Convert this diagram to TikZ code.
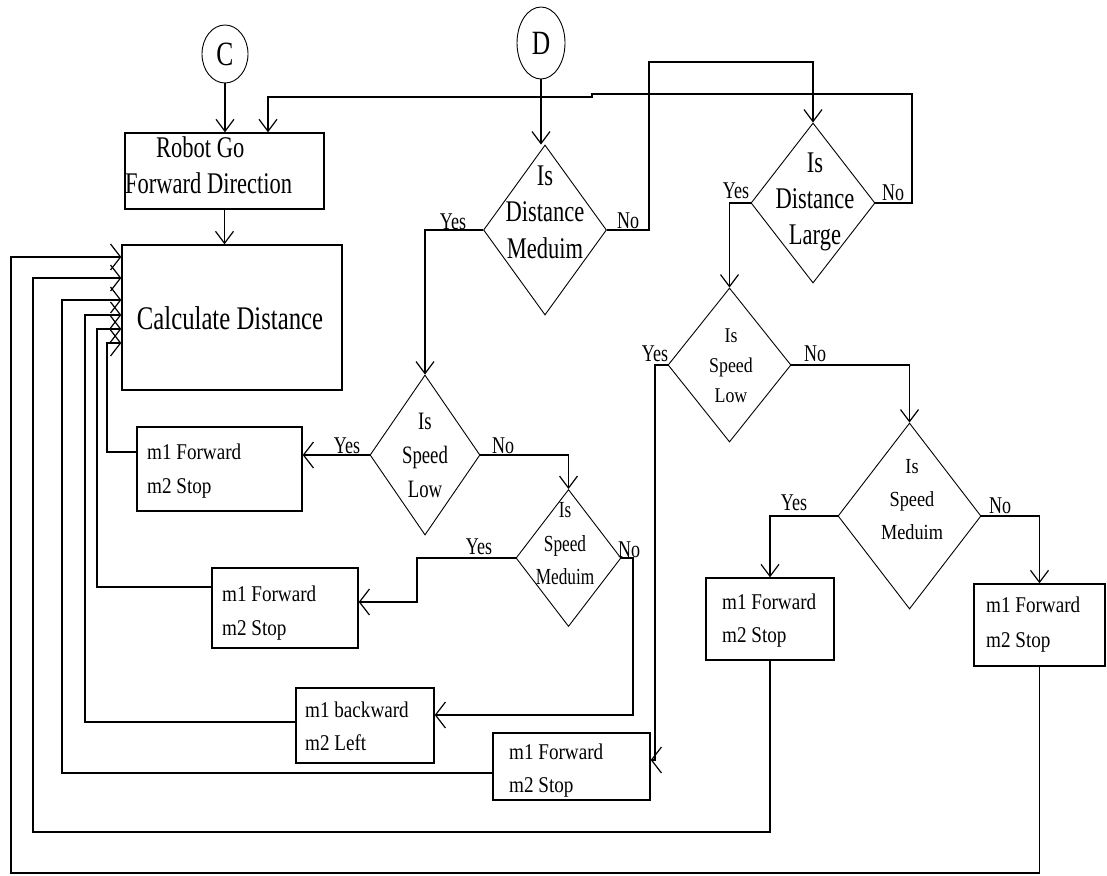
\documentclass[tikz,border=0pt]{standalone}
\usepackage{fontspec}
\usetikzlibrary{arrows.meta,shapes.geometric}
\newfontfamily\tfa[FakeStretch=0.75]{Liberation Serif}
\newfontfamily\tfb[FakeStretch=0.85]{Liberation Serif}

\tikzset{
  wire/.style={line width=1.2pt},
  varr/.style={wire, -{Straight Barb[length=12pt,width=18pt]}},
  harr/.style={wire, -{Straight Barb[length=10pt,width=26pt]}},
  conn/.style={ellipse, draw, line width=0.9pt, minimum width=46pt, minimum height=58pt, inner sep=0pt,
               font=\tfa\fontsize{34}{34}\selectfont},
  proc/.style={rectangle, draw, line width=1.4pt, inner sep=0pt},
  dec/.style={diamond, draw, line width=0.9pt, inner sep=0pt},
  dtext/.style={align=center, inner sep=0pt},
  boxtext/.style={anchor=west, align=left, inner sep=0pt, font=\tfb\fontsize{22.5}{34}\selectfont},
  lab/.style={inner sep=0pt, font=\tfa\fontsize{24}{24}\selectfont},
}

\begin{document}
\begin{tikzpicture}[x=1pt,y=-1pt]
\useasboundingbox[fill=white] (0,0) rectangle (1107,875);

% connectors and start/process boxes
\node[conn] (C) at (225,54) {C};
\node[conn, minimum width=48pt, minimum height=72pt] (D) at (541,43) {D};

\node[proc, minimum width=199pt, minimum height=76pt] (robot) at (224.5,171) {};
\node[anchor=west, align=left, inner sep=0pt, font=\tfa\fontsize{30}{36}\selectfont] (robot-t) at (125,165)
  {\hspace*{31pt}Robot Go\\Forward Direction};

\node[proc, minimum width=220pt, minimum height=145pt] (calc) at (232,317.5) {};
\node[inner sep=0pt, font=\tfa\fontsize{33}{33}\selectfont] (calc-t) at (230,318) {Calculate Distance};

% decisions
\node[dec, minimum width=123pt, minimum height=170pt] (dmed) at (545,230) {};
\node[dtext, font=\tfa\fontsize{30}{36.5}\selectfont] (dmed-t) at (545,212) {Is\\Distance\\Meduim};

\node[dec, minimum width=124pt, minimum height=160pt] (dlarge) at (813,203) {};
\node[dtext, font=\tfa\fontsize{30}{36}\selectfont] (dlarge-t) at (815,202) {Is\\Distance\\Large};

\node[dec, minimum width=110pt, minimum height=160pt] (slowL) at (425,455) {};
\node[dtext, font=\tfa\fontsize{25}{34}\selectfont] (slowL-t) at (425,455) {Is\\Speed\\Low};

\node[dec, minimum width=105pt, minimum height=137pt] (smedL) at (568.5,558) {};
\node[dtext, font=\tfa\fontsize{23}{33.5}\selectfont] (smedL-t) at (565,544) {Is\\Speed\\Meduim};

\node[dec, minimum width=123pt, minimum height=154pt] (slowR) at (729.5,365) {};
\node[dtext, font=\tfb\fontsize{21}{30}\selectfont] (slowR-t) at (731,366) {Is\\Speed\\Low};

\node[dec, minimum width=143pt, minimum height=186pt] (smedR) at (909.5,516) {};
\node[dtext, font=\tfb\fontsize{21.5}{33}\selectfont] (smedR-t) at (912,500) {Is\\Speed\\Meduim};

% motor action boxes
\node[proc, minimum width=165pt, minimum height=84pt] (b1) at (219.5,469) {};
\node[boxtext] (b1-t) at (147,471) {m1 Forward\\m2 Stop};
\node[proc, minimum width=146pt, minimum height=80pt] (b2) at (285,608) {};
\node[boxtext] (b2-t) at (222,613) {m1 Forward\\m2 Stop};
\node[proc, minimum width=138pt, minimum height=75pt] (b3) at (365,725.5) {};
\node[boxtext, font=\tfb\fontsize{22.5}{33}\selectfont] (b3-t) at (305,726) {m1 backward\\m2 Left};
\node[proc, minimum width=157pt, minimum height=67pt] (b4) at (571.5,766.5) {};
\node[boxtext, font=\tfb\fontsize{22.5}{33}\selectfont] (b4-t) at (509,771) {m1 Forward\\m2 Stop};
\node[proc, minimum width=128pt, minimum height=82pt] (b5) at (770,619) {};
\node[boxtext, font=\tfb\fontsize{22.5}{33}\selectfont] (b5-t) at (722,621) {m1 Forward\\m2 Stop};
\node[proc, minimum width=131pt, minimum height=82pt] (b6) at (1039.5,625) {};
\node[boxtext, font=\tfb\fontsize{22.5}{35}\selectfont] (b6-t) at (986,625) {m1 Forward\\m2 Stop};

% routing points
\coordinate (lp1) at (912,94);
\coordinate (lp2) at (592,94);
\coordinate (lp3) at (592,97);
\coordinate (lp4) at (268,97);
\coordinate (m1) at (649,62);
\coordinate (k1) at (417,602);
\coordinate (k2) at (633,715);
\coordinate (k3) at (655,760);

% main flow
\draw[varr] (C.south) -- (C.south |- robot.north);
\draw[varr] (robot.south) -- (robot.south |- calc.north);
\draw[varr] (D.south) -- (D.south |- dmed.north);
\draw[varr] (dlarge.east) -| (lp1) -- (lp2) -- (lp3) -- (lp4) -- (lp4 |- robot.north);
\draw[varr] (dmed.east) -| (m1) -| (dlarge.north);
\draw[varr] (dmed.west) -| (slowL.north);
\draw[varr] (dlarge.west) -| (slowR.north);
\draw[harr] (slowL.west) -- (slowL.west -| b1.east);
\draw[varr] (slowL.east) -| (smedL.north);
\draw[harr] (smedL.west) -| (k1) -- (k1 -| b2.east);
\draw[harr] (smedL.east) -| (k2) -- (k2 -| b3.east);
\draw[harr] (slowR.west) -| (k3) -- (k3 -| b4.east);
\draw[varr] (slowR.east) -| (smedR.north);
\draw[varr] (smedR.west) -| (b5.north);
\draw[varr] (smedR.east) -| (b6.north);

% feedback loops back to the distance measurement
\coordinate (f1) at (107,452);  \coordinate (g1) at (107,343);
\coordinate (f2) at (97,587);   \coordinate (g2) at (97,329);
\coordinate (f3) at (85,722);   \coordinate (g3) at (85,315);
\coordinate (f4) at (62,773);   \coordinate (g4) at (62,300);
\coordinate (f5) at (33,832);   \coordinate (g5) at (33,278);
\coordinate (f6) at (11,873);   \coordinate (g6) at (11,257);
\draw[harr] (b1.west |- f1) -- (f1) -- (g1) -- (g1 -| calc.west);
\draw[harr] (b2.west |- f2) -- (f2) -- (g2) -- (g2 -| calc.west);
\draw[harr] (b3.west |- f3) -- (f3) -- (g3) -- (g3 -| calc.west);
\draw[harr] (b4.west |- f4) -- (f4) -- (g4) -- (g4 -| calc.west);
\draw[harr] (b5.south) |- (f5) -- (g5) -- (g5 -| calc.west);
\draw[harr] (b6.south) |- (f6) -- (g6) -- (g6 -| calc.west);

% branch labels
\node[lab] (y1) at (453,222) {Yes};
\node[lab] (n1) at (628,221) {No};
\node[lab] (y2) at (736,191) {Yes};
\node[lab] (n2) at (893,193) {No};
\node[lab] (y3) at (347,446) {Yes};
\node[lab] (n3) at (503,446) {No};
\node[lab] (y4) at (479,547) {Yes};
\node[lab] (n4) at (629,550) {No};
\node[lab] (y5) at (655,354) {Yes};
\node[lab] (n5) at (815,354) {No};
\node[lab] (y6) at (794,503) {Yes};
\node[lab] (n6) at (1000,506) {No};
\end{tikzpicture}
\end{document}
